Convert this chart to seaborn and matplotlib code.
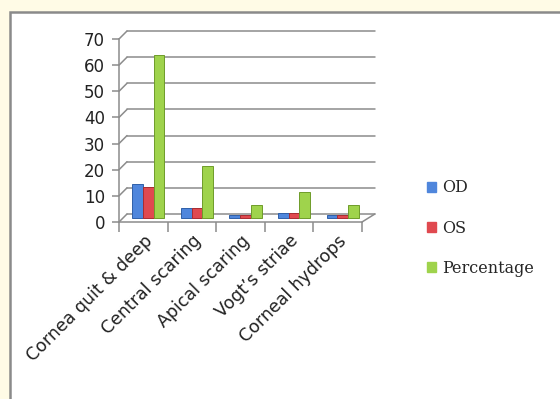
import matplotlib
matplotlib.use("Agg")
import matplotlib.pyplot as plt
from matplotlib.patches import Rectangle, ConnectionPatch, Patch
from matplotlib.transforms import ScaledTranslation, blended_transform_factory
import pandas as pd
import seaborn as sns

# Findings and counts per eye, plus percentage of cases
findings = ["Cornea quit & deep", "Central scaring", "Apical scaring",
            "Vogt\u2019s striae", "Corneal hydrops"]
od_values = [13, 4, 1, 2, 1]
os_values = [12, 4, 1, 2, 1]
percentage_values = [62.5, 20, 5, 10, 5]
series_names = ["OD", "OS", "Percentage"]
y_ticks = [0, 10, 20, 30, 40, 50, 60, 70]

colors = ["#4f86dc", "#e0494f", "#9fd34c"]
edge_colors = ["#2f5fa8", "#a82c31", "#6f9c2a"]

df = pd.DataFrame({
    "Finding": findings * 3,
    "Value": od_values + os_values + percentage_values,
    "Series": [s for s in series_names for _ in findings],
})

sns.set_theme(style="white")
W, H, DPI = 560, 399, 100
fig = plt.figure(figsize=(W / DPI, H / DPI), dpi=DPI)
fig.patch.set_facecolor("#fffbe6")

# white chart panel with grey frame
fig.patches.append(Rectangle((10 / W, -0.05), 1.2, (H - 12) / H + 0.05,
                             transform=fig.transFigure, facecolor="white",
                             edgecolor="#8a8a8a", linewidth=1.8, zorder=-10))

ax = fig.add_axes([119 / W, (H - 222) / H, 243 / W, 183 / H])
ax.set_facecolor("none")

sns.barplot(data=df, x="Finding", y="Value", hue="Series", palette=colors,
            width=0.66, saturation=1, ax=ax, zorder=3)
ax.legend_.remove()

ax.set_ylim(0, 70)
ax.set_xlim(-0.5, len(findings) - 0.5)
ax.set_yticks(y_ticks)
ax.set_xlabel("")
ax.set_ylabel("")

# push bars slightly back into the depth of the floor
bar_shift = ScaledTranslation(0.05, 0.04, fig.dpi_scale_trans)
for container, ec in zip(ax.containers, edge_colors):
    for bar in container:
        bar.set_transform(ax.transData + bar_shift)
        bar.set_edgecolor(ec)
        bar.set_linewidth(0.7)

# back wall gridlines with diagonal links to the value axis
grid_color = "#8c8c8c"
back = ScaledTranslation(0.08, 0.08, fig.dpi_scale_trans)
wall = blended_transform_factory(ax.transAxes, ax.transData)
for v in y_ticks:
    ax.plot([0, 1.02], [v, v], color=grid_color, lw=1.1,
            transform=wall + back, clip_on=False, zorder=1)
    cp = ConnectionPatch(xyA=(0, v), coordsA=wall, xyB=(0, v),
                         coordsB=wall + back, color=grid_color, lw=1.1,
                         zorder=1)
    ax.add_artist(cp)
# right edge of the floor
ax.add_artist(ConnectionPatch(xyA=(1, 0), coordsA=wall, xyB=(1.02, 0),
                              coordsB=wall + back, color=grid_color, lw=1.1))

for side in ["top", "right"]:
    ax.spines[side].set_visible(False)
for side in ["left", "bottom"]:
    ax.spines[side].set_color(grid_color)
    ax.spines[side].set_linewidth(1.1)

ax.tick_params(axis="y", left=True, length=5, width=1.1, color=grid_color,
               labelsize=12, labelcolor="#222222", pad=5)
for t in ax.get_yticklabels():
    t.set_family("DejaVu Sans")

# category boundary ticks on the x axis
ax.set_xticks([i - 0.5 for i in range(len(findings) + 1)], minor=True)
ax.tick_params(axis="x", which="minor", bottom=True, length=7, width=1.1,
               color=grid_color)
ax.tick_params(axis="x", which="major", bottom=False, length=0, pad=7)
ax.set_xticks(range(len(findings)))
ax.set_xticklabels(findings, rotation=45, ha="right", rotation_mode="anchor",
                   fontsize=12.5, color="#222222", family="DejaVu Sans")

handles = [Patch(facecolor=c, edgecolor=c) for c in colors]
fig.legend(handles, series_names, loc="upper left",
           bbox_to_anchor=(413 / W, 1 - 165 / H), frameon=False,
           handlelength=0.55, handleheight=0.55, handletextpad=0.35,
           labelspacing=1.45, prop={"family": "DejaVu Serif", "size": 11.5})

fig.savefig("out.png", dpi=DPI, facecolor=fig.get_facecolor())
